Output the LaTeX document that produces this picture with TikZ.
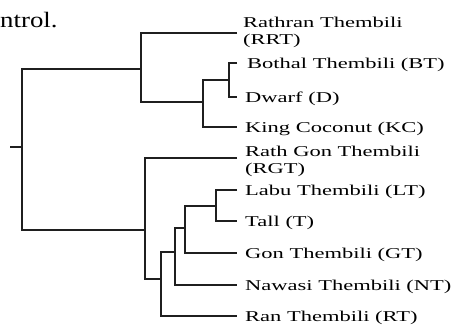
\documentclass[tikz,border=0pt]{standalone}
\usepackage{fontspec}
\setmainfont{Liberation Serif}[FakeStretch=1.5]
\newfontfamily\bodyfont{Liberation Serif}[FakeStretch=1.22]
\begin{document}
\begin{tikzpicture}[x=1pt,y=-1pt,
  branch/.style={draw=black!88, line width=2pt, line join=miter},
  taxon/.style={anchor=base west, inner sep=0pt, font=\fontsize{15}{16.5}\selectfont},
  taxon2/.style={taxon, align=left}]
\useasboundingbox (0,0) rectangle (454,327);

% fragment of the running text above the figure
\node[anchor=base west, inner sep=0pt, font=\bodyfont\fontsize{22}{24}\selectfont] (txt) at (0,27) {ntrol.};

% leaf ends
\coordinate (lRRT) at (237,33);
\coordinate (lBT)  at (237,63);
\coordinate (lD)   at (237,97);
\coordinate (lKC)  at (237,127);
\coordinate (lRGT) at (237,158);
\coordinate (lLT)  at (237,190);
\coordinate (lT)   at (237,221);
\coordinate (lGT)  at (237,253);
\coordinate (lNT)  at (237,285);
\coordinate (lRT)  at (237,316);

% internal nodes
\coordinate (stub) at (10,147);
\coordinate (root) at (22,147);
\coordinate (n1) at (141,69);
\coordinate (n2) at (203,102);
\coordinate (n3) at (229,80);
\coordinate (n4) at (145,230);
\coordinate (n5) at (161,279);
\coordinate (n6) at (175,252);
\coordinate (n7) at (185,228);
\coordinate (n8) at (216,206);

% branches
\draw[branch] (stub) -- (root);
\draw[branch] (n1) -| (root) |- (n4);
\draw[branch] (lRRT) -| (n1) |- (n2);
\draw[branch] (n3) -| (n2) |- (lKC);
\draw[branch] (lBT) -| (n3) |- (lD);
\draw[branch] (lRGT) -| (n4) |- (n5);
\draw[branch] (n6) -| (n5) |- (lRT);
\draw[branch] (n7) -| (n6) |- (lNT);
\draw[branch] (n8) -| (n7) |- (lGT);
\draw[branch] (lLT) -| (n8) |- (lT);

% labels (two-line labels are anchored on their last line)
\node[taxon2] (tRRT) at (243,44) {Rathran Thembili\\(RRT)};
\node[taxon] (tBT) at (247,68) {Bothal Thembili (BT)};
\node[taxon] (tD)  at (245,102) {Dwarf (D)};
\node[taxon] (tKC) at (245,132) {King Coconut (KC)};
\node[taxon2] (tRGT) at (245,173) {Rath Gon Thembili\\(RGT)};
\node[taxon] (tLT) at (245,195) {Labu Thembili (LT)};
\node[taxon] (tT)  at (245,226) {Tall (T)};
\node[taxon] (tGT) at (245,258) {Gon Thembili (GT)};
\node[taxon] (tNT) at (245,290) {Nawasi Thembili (NT)};
\node[taxon] (tRT) at (245,321) {Ran Thembili (RT)};
\end{tikzpicture}
\end{document}
